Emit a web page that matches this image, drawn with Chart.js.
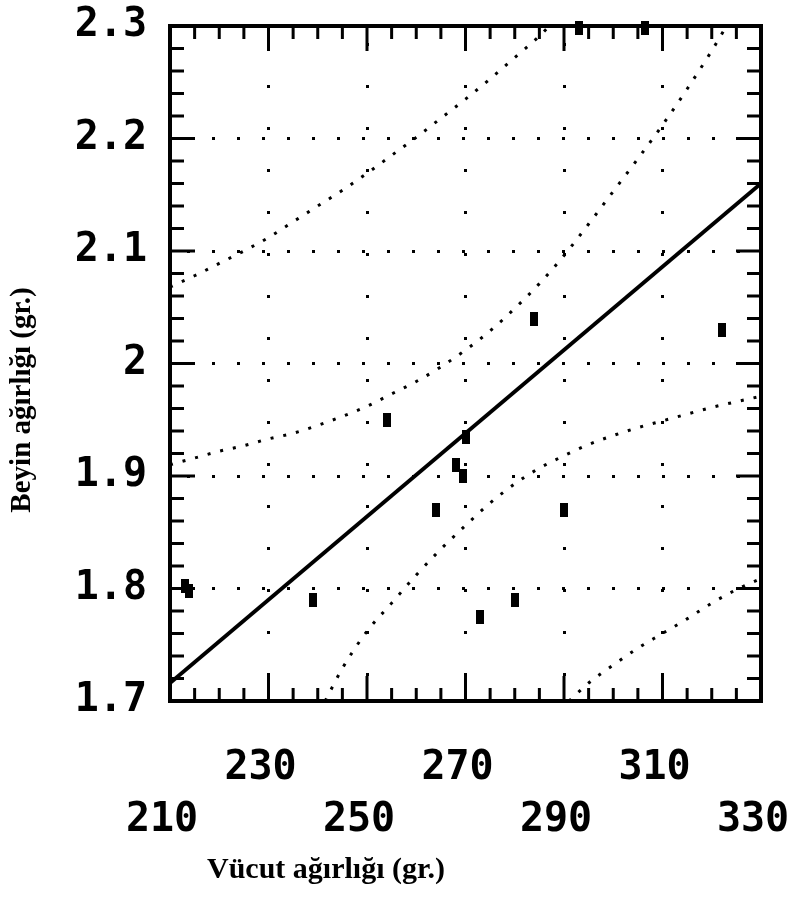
<!DOCTYPE html>
<html>
<head>
<meta charset="utf-8">
<script src="https://cdn.jsdelivr.net/npm/chart.js@4.4.1/dist/chart.umd.min.js"></script>
<style>
  body { margin: 0; background: #fff; }
</style>
</head>
<body>
<canvas id="chart" width="789" height="900"></canvas>
<script>
// Beyin / vücut ağırlığı regresyon grafiği

const xTickLabels = ['210', '230', '250', '270', '290', '310', '330'];
const yTickLabels = ['1.7', '1.8', '1.9', '2', '2.1', '2.2', '2.3'];

// gözlemler
const bodyWeight = [213.0, 213.8, 239, 254, 264, 268, 269.5, 270, 273, 280, 290, 284, 322, 293, 306.5];
const brainWeight = [1.802, 1.798, 1.79, 1.95, 1.87, 1.91, 1.90, 1.935, 1.775, 1.79, 1.87, 2.04, 2.03, 2.298, 2.298];

// regresyon doğrusu
const fitX = [210, 330];
const fitY = [1.716, 2.160];

// dış bant (üst)
const upperPredX = [210, 215, 220, 225, 230, 235, 240, 245, 250, 255, 260, 265, 270, 275, 280, 285, 287];
const upperPredY = [2.068, 2.078, 2.089, 2.100, 2.112, 2.126, 2.140, 2.154, 2.169, 2.185, 2.201, 2.218, 2.235, 2.253, 2.272, 2.291, 2.300];

// iç bant (üst)
const upperConfX = [210, 215, 220, 225, 230, 235, 240, 245, 250, 255, 260, 265, 270, 275, 280, 285, 290, 295, 300, 305, 310, 315, 320, 323];
const upperConfY = [1.910, 1.916, 1.922, 1.927, 1.933, 1.938, 1.945, 1.953, 1.962, 1.973, 1.984, 1.997, 2.012, 2.029, 2.049, 2.071, 2.096, 2.124, 2.153, 2.182, 2.212, 2.244, 2.278, 2.300];

// iç bant (alt)
const lowerConfX = [241.5, 245, 250, 255, 260, 265, 270, 275, 280, 285, 290, 295, 300, 305, 310, 315, 320, 325, 330];
const lowerConfY = [1.700, 1.729, 1.762, 1.787, 1.812, 1.835, 1.856, 1.876, 1.893, 1.907, 1.918, 1.928, 1.936, 1.943, 1.949, 1.955, 1.961, 1.966, 1.971];

// dış bant (alt)
const lowerPredX = [291, 295, 300, 305, 310, 315, 320, 325, 330];
const lowerPredY = [1.700, 1.716, 1.732, 1.747, 1.760, 1.773, 1.787, 1.799, 1.809];

const xTitle = 'Vücut ağırlığı (gr.)';
const yTitle = 'Beyin ağırlığı (gr.)';

function toPoints(xs, ys) {
    return xs.map((x, i) => ({ x: x, y: ys[i] }));
}

// small upright black block used as the marker
const marker = document.createElement('canvas');
marker.width = 8;
marker.height = 14;
marker.getContext('2d').fillRect(0, 0, 8, 14);

function bandDataset(xs, ys) {
    return {
        data: toPoints(xs, ys),
        showLine: true,
        borderColor: '#000',
        borderWidth: 3,
        borderDash: [3, 10],
        pointRadius: 0,
        cubicInterpolationMode: 'monotone'
    };
}

// frame with inward ticks on all four sides
const framePlugin = {
    id: 'frame',
    beforeDatasetsDraw(chart) {
        const { ctx, chartArea: a, scales: { x, y } } = chart;
        ctx.save();
        ctx.strokeStyle = '#000';
        ctx.lineWidth = 3;
        ctx.beginPath();
        for (let i = 0; i <= 24; i++) {
            const px = x.getPixelForValue(210 + i * 5);
            const len = i % 4 === 0 ? 25 : 13;
            ctx.moveTo(px, a.top);
            ctx.lineTo(px, a.top + len);
            ctx.moveTo(px, a.bottom);
            ctx.lineTo(px, a.bottom - len);
        }
        for (let i = 0; i <= 30; i++) {
            const py = y.getPixelForValue(1.7 + i * 0.02);
            const len = i % 5 === 0 ? 25 : 14;
            ctx.moveTo(a.left, py);
            ctx.lineTo(a.left + len, py);
            ctx.moveTo(a.right, py);
            ctx.lineTo(a.right - len, py);
        }
        ctx.stroke();
        ctx.lineWidth = 4;
        ctx.strokeRect(a.left, a.top, a.right - a.left, a.bottom - a.top);
        ctx.restore();
    }
};

const titlePlugin = {
    id: 'axisTitles',
    afterDraw(chart) {
        const ctx = chart.ctx;
        ctx.save();
        ctx.fillStyle = '#000';
        ctx.font = 'bold 30px "Liberation Serif"';
        ctx.textAlign = 'center';
        ctx.textBaseline = 'middle';
        ctx.fillText(xTitle, 326, 870);
        ctx.font = 'bold 29px "Liberation Serif"';
        ctx.translate(23, 400);
        ctx.rotate(-Math.PI / 2);
        ctx.fillText(yTitle, 0, 0);
        ctx.restore();
    }
};

const tickFont = { family: '"DejaVu Sans Mono"', size: 40, weight: 'bold' };

new Chart(document.getElementById('chart'), {
    type: 'scatter',
    data: {
        datasets: [
            bandDataset(upperPredX, upperPredY),
            bandDataset(upperConfX, upperConfY),
            bandDataset(lowerConfX, lowerConfY),
            bandDataset(lowerPredX, lowerPredY),
            {
                data: toPoints(fitX, fitY),
                showLine: true,
                borderColor: '#000',
                borderWidth: 4,
                pointRadius: 0
            },
            {
                data: toPoints(bodyWeight, brainWeight),
                pointStyle: marker,
                clip: false
            }
        ]
    },
    options: {
        responsive: false,
        animation: false,
        layout: { padding: { top: 26, right: 28, bottom: 0, left: 0 } },
        plugins: {
            legend: { display: false },
            tooltip: { enabled: false }
        },
        scales: {
            x: {
                type: 'linear',
                min: 210,
                max: 330,
                afterFit(scale) {
                    scale.height = 199;
                    scale.paddingLeft = 0;
                    scale.paddingRight = 0;
                },
                grid: { color: '#000', lineWidth: 3, drawTicks: false },
                border: { display: false, dash: [3, 39], dashOffset: 25 },
                ticks: {
                    stepSize: 20,
                    autoSkip: false,
                    maxRotation: 0,
                    padding: 42,
                    labelOffset: -8,
                    color: '#000',
                    font: { ...tickFont, lineHeight: 1.3 },
                    // staggered labels: odd ones on the upper row
                    callback: (value, index) => index % 2 ? [xTickLabels[index], ''] : ['', xTickLabels[index]]
                }
            },
            y: {
                min: 1.7,
                max: 2.3,
                afterFit(scale) {
                    scale.width = 170;
                    scale.paddingTop = 0;
                    scale.paddingBottom = 0;
                },
                grid: { color: '#000', lineWidth: 3, drawTicks: false },
                border: { display: false, dash: [3, 22], dashOffset: 8 },
                ticks: {
                    stepSize: 0.1,
                    padding: 23,
                    color: '#000',
                    font: tickFont,
                    callback: (value, index) => yTickLabels[index]
                }
            }
        }
    },
    plugins: [framePlugin, titlePlugin]
});
</script>
</body>
</html>
